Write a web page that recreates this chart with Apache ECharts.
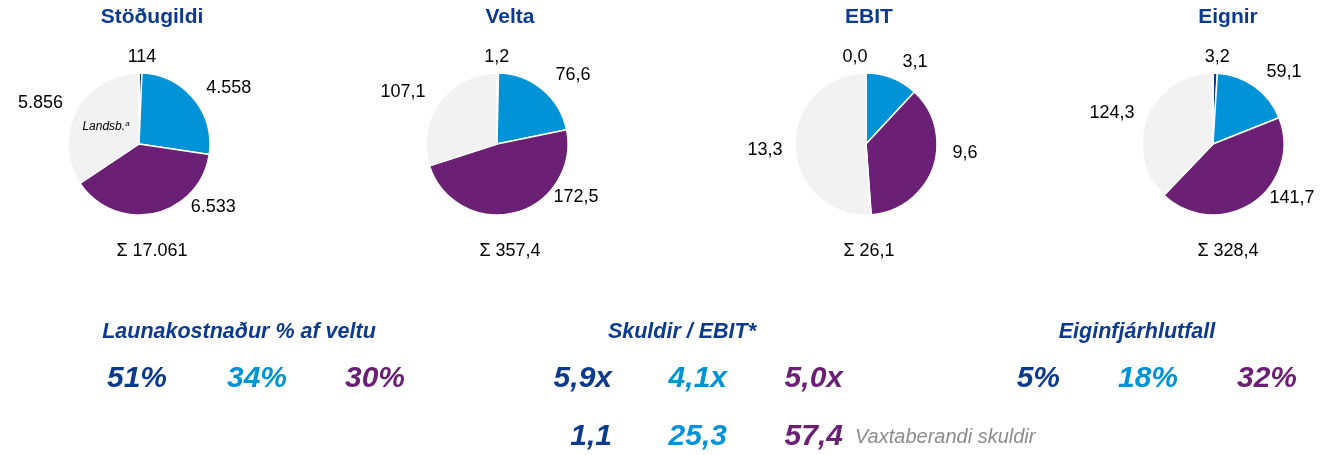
<!DOCTYPE html>
<html><head><meta charset="utf-8">
<script src="https://cdn.jsdelivr.net/npm/echarts@6/dist/echarts.min.js"></script>
<style>html,body{margin:0;padding:0;background:#fff}#c{width:1330px;height:455px}</style>
</head><body><div id="c"></div>
<script>
// ---- data ----
const pieTitles = ['Stöðugildi', 'Velta', 'EBIT', 'Eignir'];
const stodugildi = [114, 4558, 6533, 5856];
const velta = [1.2, 76.6, 172.5, 107.1];
const ebit = [0.0, 3.1, 9.6, 13.3];
const eignir = [3.2, 59.1, 141.7, 124.3];
const totals = [17061, 357.4, 26.1, 328.4];
const decimals = [0, 1, 1, 1];
const kpiTitles = ['Launakostnaður % af veltu', 'Skuldir / EBIT*', 'Eiginfjárhlutfall'];
const launakostnadurPct = [51, 34, 30];
const skuldirEbit = [5.9, 4.1, 5.0];
const vaxtaberandiSkuldir = [1.1, 25.3, 57.4];
const eiginfjarhlutfall = [5, 18, 32];
const vaxtaberandiLabel = 'Vaxtaberandi skuldir';
const landsbLabel = 'Landsb.';

// ---- style ----
const COLORS = ['#0b3a8f', '#0093d8', '#6b2075', '#f2f2f2'];
const FONT = '"Liberation Sans", Arial, sans-serif';
const pieCenters = [[139, 144], [497, 144], [866, 144], [1213, 144]];
const headX = [152, 510, 869, 1228];
const LABEL_SHIFT = [
  [[-3.5, -16], [30, -11], [54, -6], [-31, -7]],
  [[-6, -16], [25.6, -14.5], [56, -15.6], [-31.6, -10.2]],
  [[-6, -16], [18, -16], [27, -14.6], [-25, 3.4]],
  [[-3, -16], [24.4, -14.5], [34.3, -4.9], [-30, -4.5]]
];

function fmt(v, d) {
  const s = v.toFixed(d);
  let [i, f] = s.split('.');
  i = i.replace(/\B(?=(\d{3})+(?!\d))/g, '.');
  return f ? i + ',' + f : i;
}

const pieData = [stodugildi, velta, ebit, eignir];
const series = pieData.map((vals, si) => ({
  type: 'pie',
  center: pieCenters[si],
  radius: 71,
  startAngle: 90,
  clockwise: true,
  avoidLabelOverlap: false,
  silent: true,
  animation: false,
  color: COLORS,
  itemStyle: { borderColor: '#fff', borderWidth: 1.5 },
  label: {
    show: true, position: 'outside', color: '#000', fontSize: 18, fontFamily: FONT,
    formatter: p => fmt(vals[p.dataIndex], decimals[si])
  },
  labelLine: { show: false, length: 0, length2: 0 },
  labelLayout: p => {
    const s = LABEL_SHIFT[p.seriesIndex][p.dataIndex];
    return { dx: s[0], dy: s[1], align: 'center', verticalAlign: 'middle' };
  },
  emphasis: { disabled: true },
  data: vals.map((v, i) => ({ value: v, name: String(i) }))
}));

function txt(x, y, text, o) {
  return {
    type: 'text', x: x, y: y, silent: true, z: 10,
    style: Object.assign({ text: text, fontFamily: FONT, align: 'center', verticalAlign: 'middle' }, o)
  };
}

const graphics = [];
pieTitles.forEach((t, i) => {
  graphics.push(txt(headX[i], 17, t, { fontSize: 21, fontWeight: 'bold', fill: COLORS[0] }));
  graphics.push(txt(headX[i], 251, 'Σ ' + fmt(totals[i], decimals[i]), { fontSize: 18, fill: '#000' }));
});
graphics.push({
  type: 'text', x: 106, y: 127, silent: true, z: 10,
  style: {
    text: '{m|' + landsbLabel + '}{s|a}', align: 'center', verticalAlign: 'middle',
    rich: {
      m: { fontSize: 12, fontStyle: 'italic', fontFamily: FONT, fill: '#000' },
      s: { fontSize: 8, fontStyle: 'italic', fontFamily: FONT, fill: '#000', padding: [0, 0, 6, 0] }
    }
  }
});

const kpiCenters = [239, 682, 1137];
kpiTitles.forEach((t, i) => {
  graphics.push(txt(kpiCenters[i], 332, t, { fontSize: 21.5, fontWeight: 'bold', fontStyle: 'italic', fill: COLORS[0] }));
});
const bigStyle = c => ({ fontSize: 30, fontWeight: 'bold', fontStyle: 'italic', fill: COLORS[c], align: 'right' });
const launaRight = [167, 287, 405];
const skuldRight = [612, 727, 843];
const eiginRight = [1060, 1178, 1297];
launakostnadurPct.forEach((v, i) => graphics.push(txt(launaRight[i], 379, v + '%', bigStyle(i))));
skuldirEbit.forEach((v, i) => graphics.push(txt(skuldRight[i], 379, fmt(v, 1) + 'x', bigStyle(i))));
vaxtaberandiSkuldir.forEach((v, i) => graphics.push(txt(skuldRight[i], 437, fmt(v, 1), bigStyle(i))));
eiginfjarhlutfall.forEach((v, i) => graphics.push(txt(eiginRight[i], 379, v + '%', bigStyle(i))));
graphics.push(txt(855, 437, vaxtaberandiLabel, { fontSize: 20, fontStyle: 'italic', fill: '#8c8c8c', align: 'left' }));

const chart = echarts.init(document.getElementById('c'), null, { renderer: 'canvas' });
chart.setOption({ animation: false, backgroundColor: '#fff', series: series, graphic: graphics });
</script>
</body></html>
